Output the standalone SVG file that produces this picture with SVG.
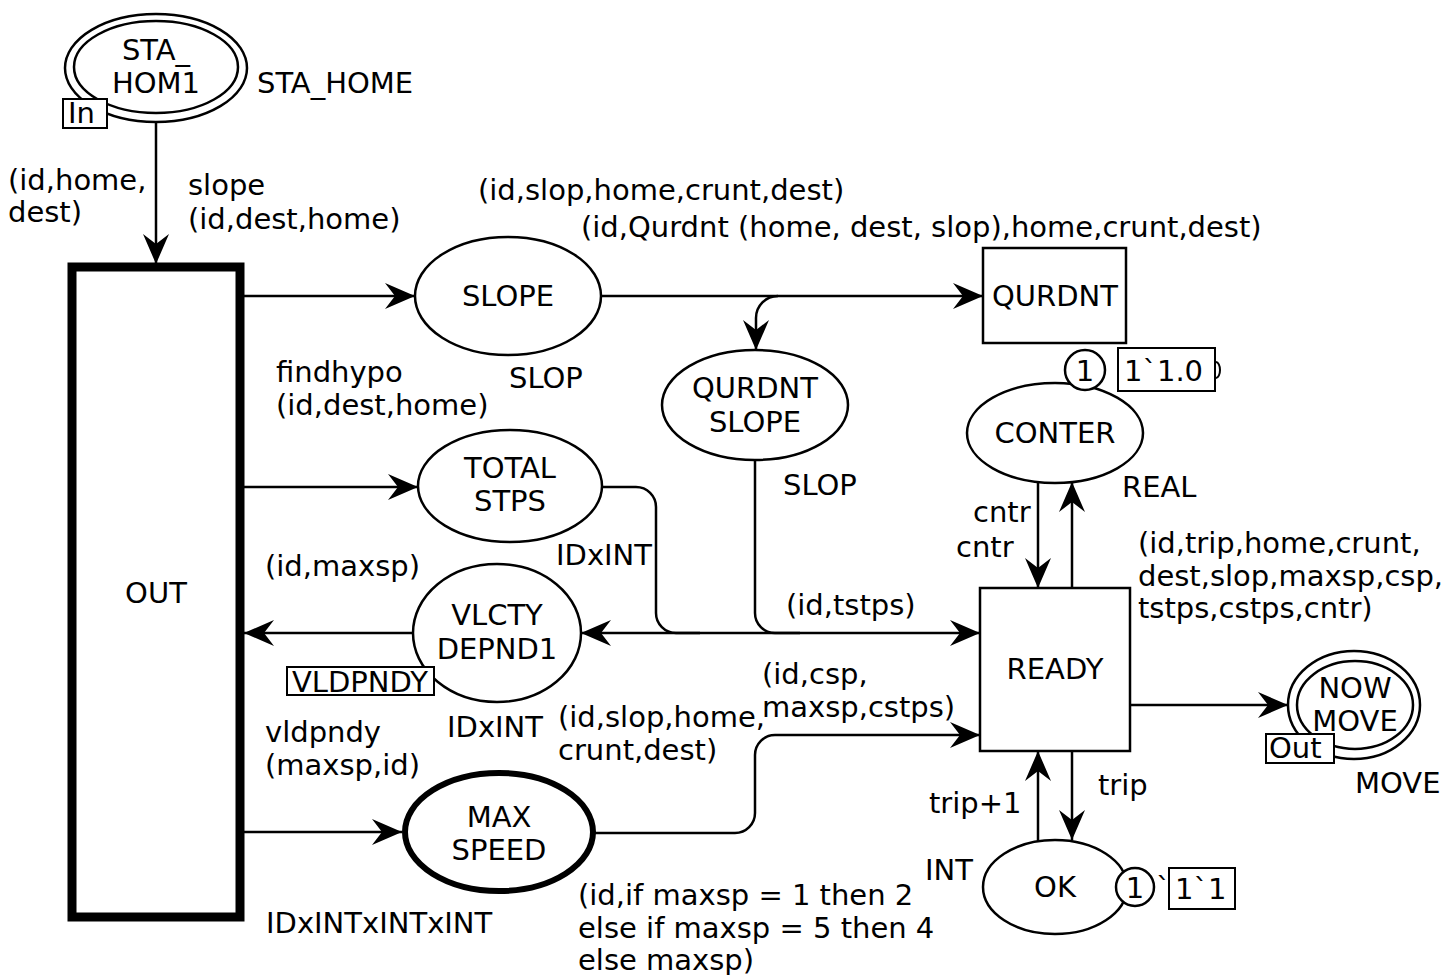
<svg xmlns="http://www.w3.org/2000/svg" width="1456" height="975" viewBox="0 0 1456 975">
<defs>
<style>
text{font-family:"DejaVu Sans","Verdana",sans-serif;font-size:29px;fill:#000}
.c{text-anchor:middle}
.n{fill:#fff;stroke:#000;stroke-width:2.5}
.e{fill:none;stroke:#000;stroke-width:2.5}
.a{marker-end:url(#arr)}
.tag{fill:#fff;stroke:#000;stroke-width:2}
</style>
<marker id="arr" viewBox="-32 -15 34 30" refX="0" refY="0" markerWidth="34" markerHeight="30" orient="auto-start-reverse" markerUnits="userSpaceOnUse">
<path d="M0,0 L-30,-13 L-20,0 L-30,13 Z" fill="#000"/>
</marker>
</defs>
<rect width="1456" height="975" fill="#fff"/>

<g id="connectors">
<path class="e a" d="M156,123 L156,264"/>
<path class="e a" d="M244,296 L415,296"/>
<path class="e a" d="M601,296 L983,296"/>
<path class="e a" d="M778,296 A22,22 0 0 0 756,318 L756,350"/>
<path class="e a" d="M244,487 L418,487"/>
<path class="e" d="M602,487 L636,487 A20,20 0 0 1 656,507 L656,613 A20,20 0 0 0 676,633 L700,633"/>
<path class="e" d="M755,460 L755,613 A20,20 0 0 0 775,633 L800,633"/>
<path class="e" d="M581,633 L980,633" marker-start="url(#arr)" marker-end="url(#arr)"/>
<path class="e a" d="M413,633 L244,633"/>
<path class="e a" d="M244,832 L402,832"/>
<path class="e a" d="M594,833 L735,833 A20,20 0 0 0 755,813 L755,755 A20,20 0 0 1 775,735 L980,735"/>
<path class="e a" d="M1038,483 L1038,588"/>
<path class="e a" d="M1072,588 L1072,482"/>
<path class="e a" d="M1038,841 L1038,751"/>
<path class="e a" d="M1072,751 L1072,840"/>
<path class="e a" d="M1130,705 L1288,705"/>
</g>

<g id="sta_hom1">
<ellipse class="n" cx="156" cy="68" rx="91" ry="54"/>
<ellipse class="n" cx="156" cy="67" rx="82" ry="46"/>
<text class="c" x="156" y="60">STA_</text>
<text class="c" x="156" y="93">HOM1</text>
<text x="257" y="93">STA_HOME</text>
<rect class="tag" x="63" y="99" width="44" height="29"/>
<text x="68" y="123">In</text>
</g>

<g id="out">
<rect x="72" y="267" width="168" height="650" fill="#fff" stroke="#000" stroke-width="9"/>
<text class="c" x="156" y="603">OUT</text>
</g>

<g id="slope">
<ellipse class="n" cx="508" cy="296" rx="93" ry="59"/>
<text class="c" x="508" y="306">SLOPE</text>
<text x="509" y="388">SLOP</text>
</g>

<g id="qurdnt">
<rect class="n" x="983" y="248" width="143" height="95"/>
<text class="c" x="1055" y="306">QURDNT</text>
</g>

<g id="qurdnt_slope">
<ellipse class="n" cx="755" cy="405" rx="93" ry="55"/>
<text class="c" x="755" y="398">QURDNT</text>
<text class="c" x="755" y="432">SLOPE</text>
<text x="783" y="495">SLOP</text>
</g>

<g id="conter">
<ellipse class="n" cx="1055" cy="433" rx="88" ry="50"/>
<text class="c" x="1055" y="443">CONTER</text>
<text x="1122" y="497">REAL</text>
<circle class="n" cx="1085" cy="370" r="20"/>
<text class="c" x="1085" y="381">1</text>
<rect class="tag" x="1118" y="348" width="97" height="43"/>
<text x="1124" y="381">1`1.0</text>
<path d="M1216,362 A4,8 0 0 1 1216,378" fill="none" stroke="#000" stroke-width="2"/>
</g>

<g id="total_stps">
<ellipse class="n" cx="510" cy="486" rx="92" ry="56"/>
<text class="c" x="510" y="478">TOTAL</text>
<text class="c" x="510" y="511">STPS</text>
<text x="556" y="565">IDxINT</text>
</g>

<g id="vlcty_depnd1">
<ellipse class="n" cx="497" cy="633" rx="84" ry="69"/>
<text class="c" x="497" y="625">VLCTY</text>
<text class="c" x="497" y="659">DEPND1</text>
<rect class="tag" x="287" y="667" width="147" height="28"/>
<text class="c" x="360" y="692">VLDPNDY</text>
<text x="447" y="737">IDxINT</text>
</g>

<g id="max_speed">
<ellipse cx="499" cy="832" rx="94" ry="59" fill="#fff" stroke="#000" stroke-width="6"/>
<text class="c" x="499" y="827">MAX</text>
<text class="c" x="499" y="860">SPEED</text>
<text x="266" y="933">IDxINTxINTxINT</text>
</g>

<g id="ready">
<rect class="n" x="980" y="588" width="150" height="163"/>
<text class="c" x="1055" y="679">READY</text>
</g>

<g id="ok">
<ellipse class="n" cx="1055" cy="887" rx="72" ry="47"/>
<text class="c" x="1055" y="897">OK</text>
<text x="925" y="880">INT</text>
<circle class="n" cx="1135" cy="887" r="19"/>
<text class="c" x="1135" y="898">1</text>
<text x="1156" y="898">`</text>
<rect class="tag" x="1169" y="868" width="66" height="41"/>
<text x="1175" y="899">1`1</text>
</g>

<g id="now_move">
<ellipse class="n" cx="1354" cy="705" rx="66" ry="54"/>
<ellipse class="n" cx="1355" cy="705" rx="58" ry="44"/>
<text class="c" x="1355" y="698">NOW</text>
<text class="c" x="1355" y="731">MOVE</text>
<rect class="tag" x="1266" y="734" width="68" height="29"/>
<text x="1269" y="758">Out</text>
<text x="1355" y="793">MOVE</text>
</g>

<g id="labels">
<text x="8" y="190">(id,home,</text>
<text x="8" y="222">dest)</text>
<text x="188" y="195">slope</text>
<text x="188" y="229">(id,dest,home)</text>
<text x="478" y="200">(id,slop,home,crunt,dest)</text>
<text x="581" y="237">(id,Qurdnt (home, dest, slop),home,crunt,dest)</text>
<text x="276" y="382">findhypo</text>
<text x="276" y="415">(id,dest,home)</text>
<text x="265" y="576">(id,maxsp)</text>
<text x="265" y="742">vldpndy</text>
<text x="265" y="775">(maxsp,id)</text>
<text x="786" y="615">(id,tstps)</text>
<text x="762" y="684">(id,csp,</text>
<text x="762" y="717">maxsp,cstps)</text>
<text x="558" y="727">(id,slop,home,</text>
<text x="558" y="760">crunt,dest)</text>
<text x="578" y="905">(id,if maxsp = 1 then 2</text>
<text x="578" y="938">else if maxsp = 5 then 4</text>
<text x="578" y="970">else maxsp)</text>
<text x="973" y="522">cntr</text>
<text x="956" y="557">cntr</text>
<text x="1138" y="553">(id,trip,home,crunt,</text>
<text x="1138" y="586">dest,slop,maxsp,csp,</text>
<text x="1138" y="618">tstps,cstps,cntr)</text>
<text x="929" y="813">trip+1</text>
<text x="1098" y="795">trip</text>
</g>
</svg>
